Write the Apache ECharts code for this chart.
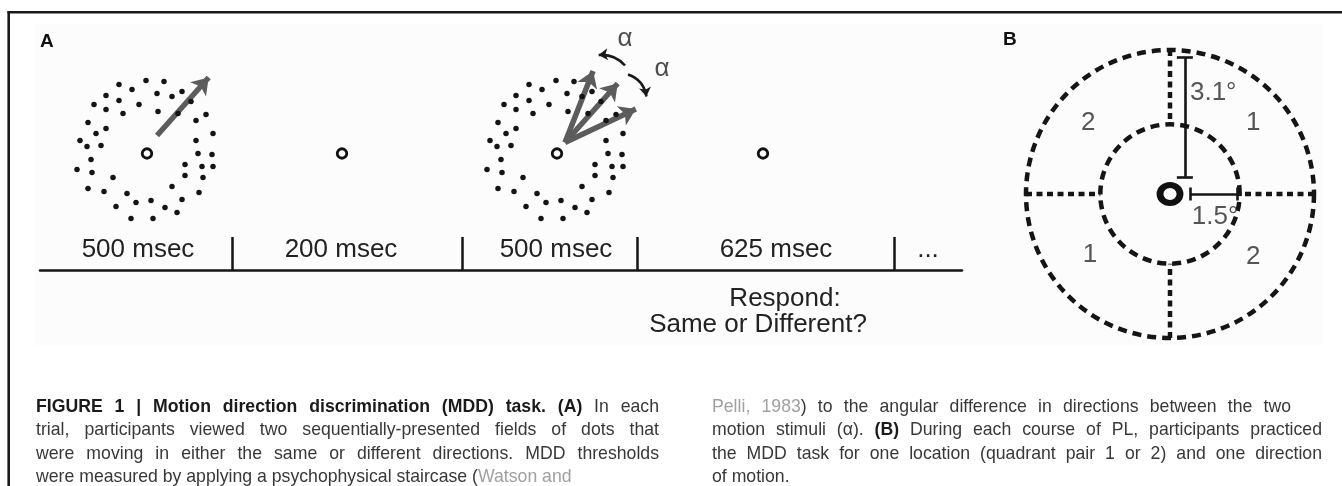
<!DOCTYPE html>
<html>
<head>
<meta charset="utf-8">
<title>Figure 1 - MDD task</title>
<script src="https://cdn.jsdelivr.net/npm/echarts@6/dist/echarts.min.js"></script>
<style>
  html, body { margin: 0; padding: 0; background: #fff; }
  #chart { width: 1342px; height: 486px; }
</style>
</head>
<body>
<div id="chart"></div>
<script>
// ---- data ----

// random-dot field, px relative to the fixation ring (y down); same pattern in both stimulus frames
const dotField = [
  [-28,-69],[-1,-73],[17,-72],[-41,-58],[-15,-64],[10,-60],[25,-57],[35,-62],
  [-53,-49],[-28,-53],[-8,-49],[44,-52],[-41,-44],[-24,-40],[11,-42],[31,-40],
  [-59,-31],[-41,-25],[-51,-20],[49,-33],[59,-39],[-67,-13],[-60,-7],[-46,-8],
  [49,-13],[66,-20],[-56,6],[51,0],[65,1],[-70,16],[-55,19],[38,11],[55,13],[66,13],
  [-34,24],[38,22],[56,24],[-59,35],[-43,38],[-20,40],[25,33],[52,39],[-11,49],[4,47],
  [35,46],[-31,53],[18,54],[30,59],[-16,65],[6,65]
]

// motion arrows (start, tip), same units
const motion1 = [[10,-18],[67,-82]]
const motion2Origin = [8,-11]
const motion2Tips = [[39,-90],[66,-76],[86,-48]]
const alphaArcs = [[[68,-88],[38,-100]], [[71,-79],[92,-54]]]
const alphaArcBend = [-0.25, 0.3]
const alphaLabels = [[68,-115],[105,-85]]

// time line (px from its left end)
const segTicks = [192, 422, 597, 854]
const segLabelX = [98, 301, 516, 736, 888]
const segLabels = ['500 msec', '200 msec', '500 msec', '625 msec', '...']

// panel B, degrees of visual angle
const ringRadiiDeg = [1.5, 3.1]
const quadrantLabels = [['2',-1.76,1.53],['1',1.79,1.53],['1',-1.72,-1.32],['2',1.79,-1.35]]
const radiusBar = [[0.32,2.94],[0.32,0.37]]
const fixBar = [[0.43,0],[1.44,0]]
const barLabels = [['3.1°',0.43,2.17],['1.5°',0.47,-0.49]]

// caption: [style, text] pieces per line
const captionLeft = [
  [['b','FIGURE 1 | Motion direction discrimination (MDD) task. (A)'],['n',' In each']],
  [['n','trial, participants viewed two sequentially-presented fields of dots that']],
  [['n','were moving in either the same or different directions. MDD thresholds']],
  [['n','were measured by applying a psychophysical staircase ('],['g','Watson and']]
]
const captionRight = [
  [['g','Pelli, 1983'],['n',') to the angular difference in directions between the two']],
  [['n','motion stimuli (α). '],['b','(B)'],['n',' During each course of PL, participants practiced']],
  [['n','the MDD task for one location (quadrant pair 1 or 2) and one direction']],
  [['n','of motion.']]
]

// ---- layout ----
const FONT = '"Liberation Sans", Arial, sans-serif'
const frameX = [107, 302, 517, 723]   // fixation of each frame on the panel A x scale
const bCenter = [1170, 194]
const pxPerDeg = 144 / 3.1
const bHalf = 3.5

const chart = echarts.init(document.getElementById('chart'))

// pull a line end back so the arrow head tip lands on the point
const pullBack = (p0, p1, d) => {
  const dx = p1[0] - p0[0], dy = p1[1] - p0[1]
  const len = Math.sqrt(dx * dx + dy * dy)
  return [p1[0] - dx / len * d, p1[1] - dy / len * d]
}
const shift = (p, fx) => [p[0] + fx, p[1]]

const arrowData = [
  { coords: [shift(motion1[0], frameX[0]), shift(pullBack(motion1[0], motion1[1], 8), frameX[0])] }
].concat(motion2Tips.map(t => ({
  coords: [shift(motion2Origin, frameX[2]), shift(pullBack(motion2Origin, t, 8), frameX[2])]
})))

const arcData = alphaArcs.map((a, i) => ({
  coords: [shift(a[0], frameX[2]), shift(pullBack(a[0], a[1], 4), frameX[2])],
  lineStyle: { curveness: alphaArcBend[i] }
}))

const capSize = 19
const capScaleX = 0.93
const capLineGap = 23.2
const capStyles = {
  n: { fontWeight: 'normal', fill: '#383838' },
  b: { fontWeight: 'bold', fill: '#1a1a1a' },
  g: { fontWeight: 'normal', fill: '#a0a0a0' }
}
const ctx = document.createElement('canvas').getContext('2d')
const textWidth = (str, weight) => {
  ctx.font = weight + ' ' + capSize + 'px ' + FONT
  return ctx.measureText(str).width * capScaleX
}

// justified caption, one text element per word piece
const captionElements = (lines, left, rights, top) => {
  const els = []
  lines.forEach((segs, i) => {
    const words = [[]]
    segs.forEach(([st, txt]) => {
      txt.split(/( )/).forEach(part => {
        if (part === ' ') {
          if (words[words.length - 1].length) words.push([])
        } else if (part) {
          words[words.length - 1].push([st, part])
        }
      })
    })
    const widths = words.map(w => w.reduce((s, [st, t]) => s + textWidth(t, capStyles[st].fontWeight), 0))
    const total = widths.reduce((a, b) => a + b, 0)
    const justify = rights[i] != null && words.length > 1
    const gap = justify ? (rights[i] - left - total) / (words.length - 1) : textWidth(' ', 'normal')
    let x = left
    const y = top + i * capLineGap
    words.forEach(w => {
      w.forEach(([st, t]) => {
        els.push({
          type: 'text', x: x, y: y, scaleX: capScaleX, z: 10,
          style: {
            text: t, fontSize: capSize, fontFamily: FONT,
            fontWeight: capStyles[st].fontWeight, fill: capStyles[st].fill,
            align: 'left', verticalAlign: 'middle'
          }
        })
        x += textWidth(t, capStyles[st].fontWeight)
      })
      x += gap
    })
  })
  return els
}

const barSegments = () => {
  const cap = 8 / pxPerDeg
  const cap2 = 6.5 / pxPerDeg
  return [
    { coords: radiusBar },
    { coords: [[radiusBar[0][0] - cap, radiusBar[0][1]], [radiusBar[0][0] + cap, radiusBar[0][1]]] },
    { coords: [[radiusBar[1][0] - cap, radiusBar[1][1]], [radiusBar[1][0] + cap, radiusBar[1][1]]] },
    { coords: fixBar },
    { coords: [[fixBar[0][0], fixBar[0][1] - cap2], [fixBar[0][0], fixBar[0][1] + cap2]] },
    { coords: [[fixBar[1][0], fixBar[1][1] - cap2], [fixBar[1][0], fixBar[1][1] + cap2]] }
  ]
}

const textStyle = (size, extra) => Object.assign({ fontSize: size, fontFamily: FONT, color: '#222' }, extra || {})

const option = {
  animation: false,
  backgroundColor: '#ffffff',
  grid: [
    { left: 40, top: 13.5, width: 922, height: 240 },
    { left: 40, top: 200, width: 922, height: 70 },
    { left: bCenter[0] - bHalf * pxPerDeg, top: bCenter[1] - bHalf * pxPerDeg,
      width: 2 * bHalf * pxPerDeg, height: 2 * bHalf * pxPerDeg }
  ],
  xAxis: [
    { gridIndex: 0, type: 'value', min: 0, max: 922, show: false },
    {
      gridIndex: 1, type: 'value', min: 0, max: 922,
      axisLine: { onZero: false, lineStyle: { color: '#151515', width: 2.5 } },
      axisTick: { show: true, customValues: segTicks, inside: true, length: 33,
        lineStyle: { color: '#151515', width: 2.5 } },
      axisLabel: {
        show: true, customValues: segLabelX, inside: true, margin: 7,
        fontSize: 26, fontFamily: FONT, color: '#222',
        formatter: v => segLabels[segLabelX.indexOf(v)]
      },
      splitLine: { show: false }
    },
    { gridIndex: 2, type: 'value', min: -bHalf, max: bHalf, show: false }
  ],
  yAxis: [
    { gridIndex: 0, type: 'value', min: -140, max: 100, inverse: true, show: false },
    { gridIndex: 1, type: 'value', min: 0, max: 1, show: false },
    { gridIndex: 2, type: 'value', min: -bHalf, max: bHalf, show: false }
  ],
  polar: {
    center: bCenter,
    radius: [ringRadiiDeg[0] * pxPerDeg, ringRadiiDeg[1] * pxPerDeg]
  },
  angleAxis: {
    type: 'value', min: 0, max: 360, interval: 90, startAngle: 90,
    axisLine: { show: true, lineStyle: { color: '#151515', width: 4.5, type: [9, 6] } },
    axisTick: { show: false },
    axisLabel: { show: false },
    splitLine: { show: true, lineStyle: { color: '#151515', width: 4.5, type: [6, 4.5] } }
  },
  radiusAxis: { type: 'value', min: 0, max: 1, show: false, splitLine: { show: false } },
  series: [
    // motion arrows
    {
      type: 'lines', coordinateSystem: 'cartesian2d', xAxisIndex: 0, yAxisIndex: 0, z: 3,
      symbol: ['none', 'arrow'], symbolSize: 16,
      lineStyle: { color: '#5c5c5c', width: 5.5, opacity: 1, curveness: 0 },
      data: arrowData
    },
    // alpha arcs
    {
      type: 'lines', coordinateSystem: 'cartesian2d', xAxisIndex: 0, yAxisIndex: 0, z: 3,
      symbol: ['none', 'arrow'], symbolSize: 9,
      lineStyle: { color: '#1a1a1a', width: 2.6, opacity: 1 },
      data: arcData
    },
    // dots of both stimulus frames
    {
      type: 'scatter', xAxisIndex: 0, yAxisIndex: 0, z: 4, clip: false,
      symbolSize: 5.5, itemStyle: { color: '#141414', opacity: 1 },
      data: dotField.map(p => shift(p, frameX[0])).concat(dotField.map(p => shift(p, frameX[2])))
    },
    // fixation rings
    {
      type: 'scatter', xAxisIndex: 0, yAxisIndex: 0, z: 4, clip: false,
      symbolSize: 9.5,
      itemStyle: { color: '#fcfcfc', borderColor: '#111', borderWidth: 2.8, opacity: 1 },
      data: frameX.map(x => [x, 0])
    },
    // alpha labels
    {
      type: 'scatter', xAxisIndex: 0, yAxisIndex: 0, z: 5, clip: false, symbolSize: 0,
      label: { show: true, position: 'inside', formatter: 'α', ...textStyle(26) },
      data: alphaLabels.map(p => shift(p, frameX[2]))
    },
    // panel B measuring bars
    {
      type: 'lines', coordinateSystem: 'cartesian2d', xAxisIndex: 2, yAxisIndex: 2, z: 3,
      lineStyle: { color: '#151515', width: 2.6, opacity: 1 },
      data: barSegments()
    },
    // panel B fixation
    {
      type: 'scatter', xAxisIndex: 2, yAxisIndex: 2, z: 4, clip: false,
      symbolSize: [20, 18],
      itemStyle: { color: '#fff', borderColor: '#111', borderWidth: 6.5, opacity: 1 },
      data: [[0, 0]]
    },
    // quadrant numbers
    {
      type: 'scatter', xAxisIndex: 2, yAxisIndex: 2, z: 5, clip: false, symbolSize: 0,
      label: { show: true, position: 'inside', formatter: '{b}', ...textStyle(26, { color: '#2a2a2a' }) },
      data: quadrantLabels.map(q => ({ name: q[0], value: [q[1], q[2]] }))
    },
    // bar labels
    {
      type: 'scatter', xAxisIndex: 2, yAxisIndex: 2, z: 5, clip: false, symbolSize: 0,
      label: { show: true, position: 'inside', align: 'left', formatter: '{b}', ...textStyle(26, { color: '#2a2a2a' }) },
      data: barLabels.map(q => ({ name: q[0], value: [q[1], q[2]] }))
    }
  ],
  graphic: [
    { type: 'rect', z: 0, shape: { x: 35, y: 24, width: 1287, height: 321 }, style: { fill: '#fcfcfc' } },
    { type: 'line', z: 10, shape: { x1: 7.5, y1: 12.2, x2: 1342, y2: 12.2 }, style: { stroke: '#1a1a1a', lineWidth: 2.6 } },
    { type: 'line', z: 10, shape: { x1: 8.7, y1: 11, x2: 8.7, y2: 486 }, style: { stroke: '#1a1a1a', lineWidth: 2.6 } },
    { type: 'text', z: 10, x: 40, y: 42, style: { text: 'A', fontSize: 19, fontWeight: 'bold', fontFamily: FONT, fill: '#111', verticalAlign: 'middle' } },
    { type: 'text', z: 10, x: 1003, y: 40, style: { text: 'B', fontSize: 19, fontWeight: 'bold', fontFamily: FONT, fill: '#111', verticalAlign: 'middle' } },
    { type: 'text', z: 10, x: 785, y: 299, style: { text: 'Respond:', fontSize: 26, fontFamily: FONT, fill: '#222', align: 'center', verticalAlign: 'middle' } },
    { type: 'text', z: 10, x: 758, y: 325, style: { text: 'Same or Different?', fontSize: 26, fontFamily: FONT, fill: '#222', align: 'center', verticalAlign: 'middle' } }
  ]
    .concat(captionElements(captionLeft, 36, [659, 659, 659, null], 407))
    .concat(captionElements(captionRight, 712, [1291, 1322, 1322, null], 407))
}

chart.setOption(option)
window.addEventListener('resize', () => chart.resize())
</script>
</body>
</html>
